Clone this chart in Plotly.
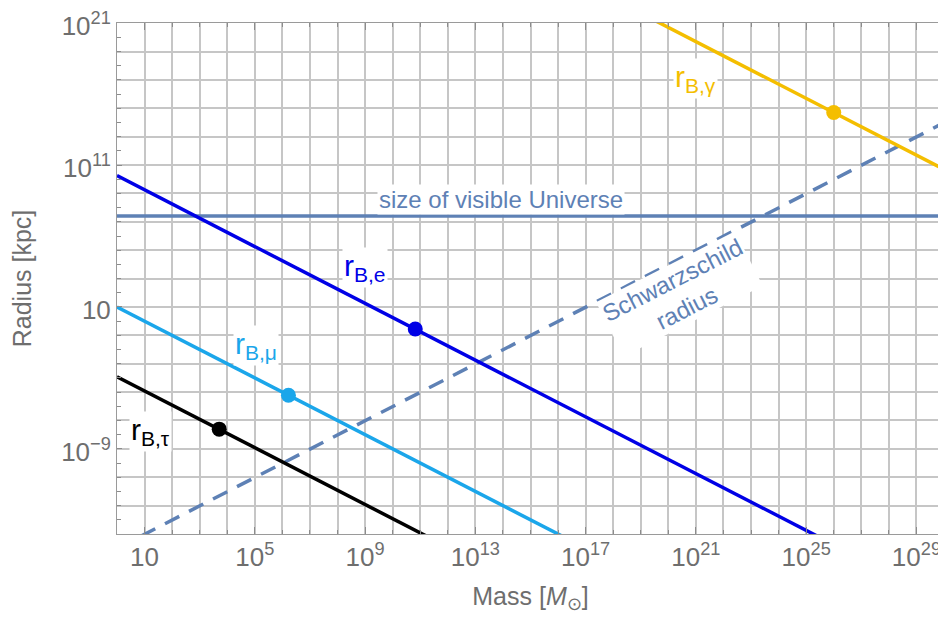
import numpy as np
import plotly.graph_objects as go

# line endpoints (masses in solar masses, radii in kpc)
mass_ends = [1, 1e30]
r_e = [1.8e10, 1.8e-20]
r_mu = [1.0e1, 1.0e-29]
r_tau = [1.2e-4, 1.2e-34]
r_gamma = [5.0e40, 5.0e10]
r_schw = [9.6e-17, 9.6e13]
r_universe = [2.6e7, 2.6e7]

# marked points on each Bohr-radius line
dot_mass = [6.6e10, 1.66e6, 5.1e3, 1.0e26]
dot_radius = [0.28, 6.0e-6, 2.45e-8, 5.0e14]
dot_colors = ['#0000e6', '#1ba6ea', '#000000', '#f4be00']

# axis ticks
x_label_exp = [1, 5, 9, 13, 17, 21, 25, 29]
y_label_exp = [-9, 1, 11, 21]

C_E, C_MU, C_TAU, C_GAMMA, C_REF = '#0000e6', '#1ba6ea', '#000000', '#f4be00', '#5e81b5'
FONT = "'Liberation Sans', Arial, sans-serif"
GRAY = '#6e6e6e'


def exp_label(n):
    if n == 1:
        return '10'
    return '10<sup>%s</sup>' % str(n).replace('-', '\u2212')


fig = go.Figure()

fig.add_trace(go.Scatter(x=mass_ends, y=r_universe, mode='lines', line=dict(color=C_REF, width=3.5)))
fig.add_trace(go.Scatter(x=mass_ends, y=r_schw, mode='lines', line=dict(color=C_REF, width=3.5, dash='16px,11px')))
fig.add_trace(go.Scatter(x=mass_ends, y=r_e, mode='lines', line=dict(color=C_E, width=3.5)))
fig.add_trace(go.Scatter(x=mass_ends, y=r_mu, mode='lines', line=dict(color=C_MU, width=3.5)))
fig.add_trace(go.Scatter(x=mass_ends, y=r_tau, mode='lines', line=dict(color=C_TAU, width=3.5)))
fig.add_trace(go.Scatter(x=mass_ends, y=r_gamma, mode='lines', line=dict(color=C_GAMMA, width=3.5)))
fig.add_trace(go.Scatter(x=dot_mass, y=dot_radius, mode='markers',
                         marker=dict(color=dot_colors, size=15, line=dict(width=0))))

# labels (positions in log10 units)
labels = [
    (9.0, 3.75, 'r<sub>B,e</sub>', C_E, 30, 0),
    (5.05, -1.7, 'r<sub>B,\u03bc</sub>', C_MU, 30, 0),
    (1.2, -7.8, 'r<sub>B,\u03c4</sub>', C_TAU, 30, 0),
    (21.0, 17.1, 'r<sub>B,\u03b3</sub>', C_GAMMA, 30, 0),
    (13.93, 8.6, 'size of visible Universe', C_REF, 24, 0),
    (20.4, 1.9, 'Schwarzschild<br>radius', C_REF, 24, -27),
]
for x, y, text, color, size, angle in labels:
    fig.add_annotation(x=x, y=y, text=text, showarrow=False, textangle=angle,
                       font=dict(color=color, size=size, family=FONT),
                       bgcolor='white', borderpad=1)

fig.update_xaxes(type='log', range=[0, 30], automargin=False, ticklabeloverflow='allow',
                 tickvals=[10.0 ** n for n in x_label_exp],
                 ticktext=[exp_label(n) for n in x_label_exp],
                 ticks='inside', ticklen=7, tickcolor='#8c8c8c', mirror='allticks',
                 showline=True, linecolor='#9a9a9a', linewidth=1,
                 showgrid=True, gridcolor='#c6c6c6', gridwidth=2,
                 minor=dict(tickvals=[10.0 ** n for n in range(0, 31)], ticks='inside', ticklen=4,
                            tickcolor='#8c8c8c', showgrid=True, gridcolor='#c6c6c6', gridwidth=2),
                 tickfont=dict(size=26, color=GRAY, family=FONT),
                 title=dict(text='Mass [<i>M</i><sub>\u2299</sub>]', font=dict(size=25, color=GRAY, family=FONT),
                            standoff=28),
                 zeroline=False)

fig.update_yaxes(type='log', range=[-15, 21.01], automargin=False, ticklabeloverflow='allow',
                 ticklabelshift=3,
                 tickvals=[10.0 ** n for n in range(-15, 22, 2)],
                 ticktext=[exp_label(n) if n in y_label_exp else '' for n in range(-15, 22, 2)],
                 ticks='inside', ticklen=5, tickcolor='#8c8c8c', mirror='allticks',
                 showline=True, linecolor='#9a9a9a', linewidth=1,
                 showgrid=True, gridcolor='#c6c6c6', gridwidth=2,
                 minor=dict(tickvals=[10.0 ** n for n in range(-15, 22)], ticks='inside', ticklen=4,
                            tickcolor='#8c8c8c', showgrid=False),
                 tickfont=dict(size=26, color=GRAY, family=FONT),
                 title=dict(text='Radius [kpc]', font=dict(size=25, color=GRAY, family=FONT), standoff=22),
                 zeroline=False)

# the page body adds an 8px margin: the height is kept within the window, the width
# may run up to the window's right edge
fig.update_layout(width=938, height=606, showlegend=False,
                  margin=dict(l=109, r=2, t=15, b=80),
                  plot_bgcolor='white', paper_bgcolor='white')

fig.write_html("out.html")
